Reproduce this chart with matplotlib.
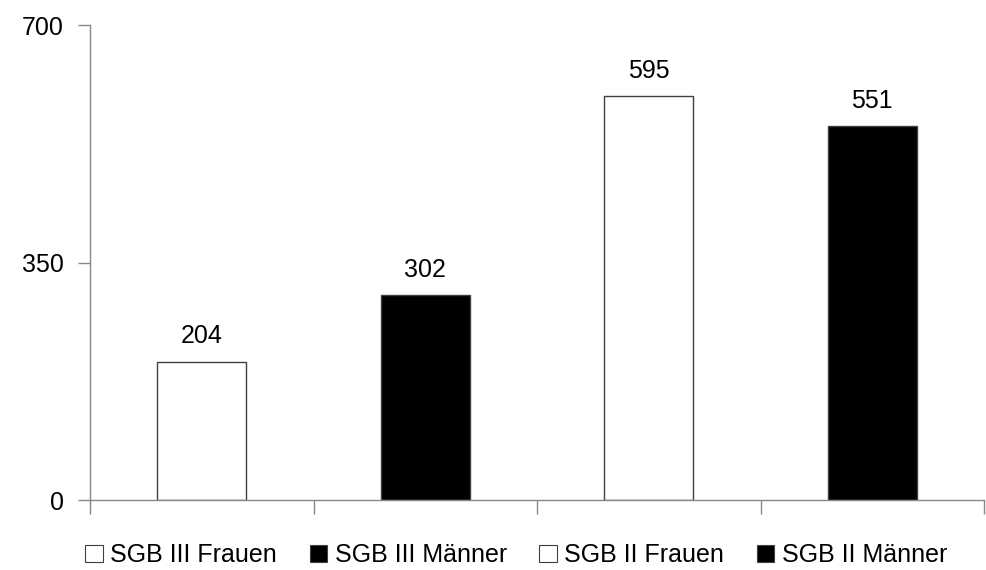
import matplotlib
matplotlib.use('Agg')
import matplotlib.pyplot as plt
from matplotlib.patches import Patch

plt.rcParams['font.family'] = ['Liberation Sans', 'DejaVu Sans']

categories = ['SGB III Frauen', 'SGB III Männer', 'SGB II Frauen', 'SGB II Männer']
values = [204, 302, 595, 551]
colors = ['white', 'black', 'white', 'black']
yticks = [0, 350, 700]

fig = plt.figure(figsize=(9.87, 5.70), dpi=100)
ax = fig.add_axes([0.0912, 0.1228, 0.9058, 0.8333])

x = list(range(len(categories)))
bars = ax.bar(x, values, width=0.4, color=colors, edgecolor='#404040', linewidth=1.0)

for xi, v in zip(x, values):
    ax.text(xi, v + 20, str(v), ha='center', va='bottom', fontsize=18)

ax.set_xlim(-0.5, 3.5)
ax.set_ylim(0, 700)
ax.set_yticks(yticks)
ax.set_yticklabels([str(t) for t in yticks], fontsize=18)
ax.set_xticks([-0.5, 0.5, 1.5, 2.5, 3.5])
ax.set_xticklabels([])
ax.tick_params(axis='y', direction='out', length=9, width=1, color='#888888', pad=10)
ax.tick_params(axis='x', direction='out', length=10, width=1, color='#888888')

for side in ['top', 'right']:
    ax.spines[side].set_visible(False)
for side in ['left', 'bottom']:
    ax.spines[side].set_color('#888888')
    ax.spines[side].set_linewidth(1)

handles = [Patch(facecolor=c, edgecolor='#404040', linewidth=0.8) for c in colors]
fig.legend(handles, categories, loc='center', bbox_to_anchor=(0.523, 0.026), ncol=4,
           frameon=False, fontsize=18, handlelength=0.7, handleheight=0.7,
           handletextpad=0.3, columnspacing=1.3)

fig.savefig('out.png', dpi=100, facecolor='white')
